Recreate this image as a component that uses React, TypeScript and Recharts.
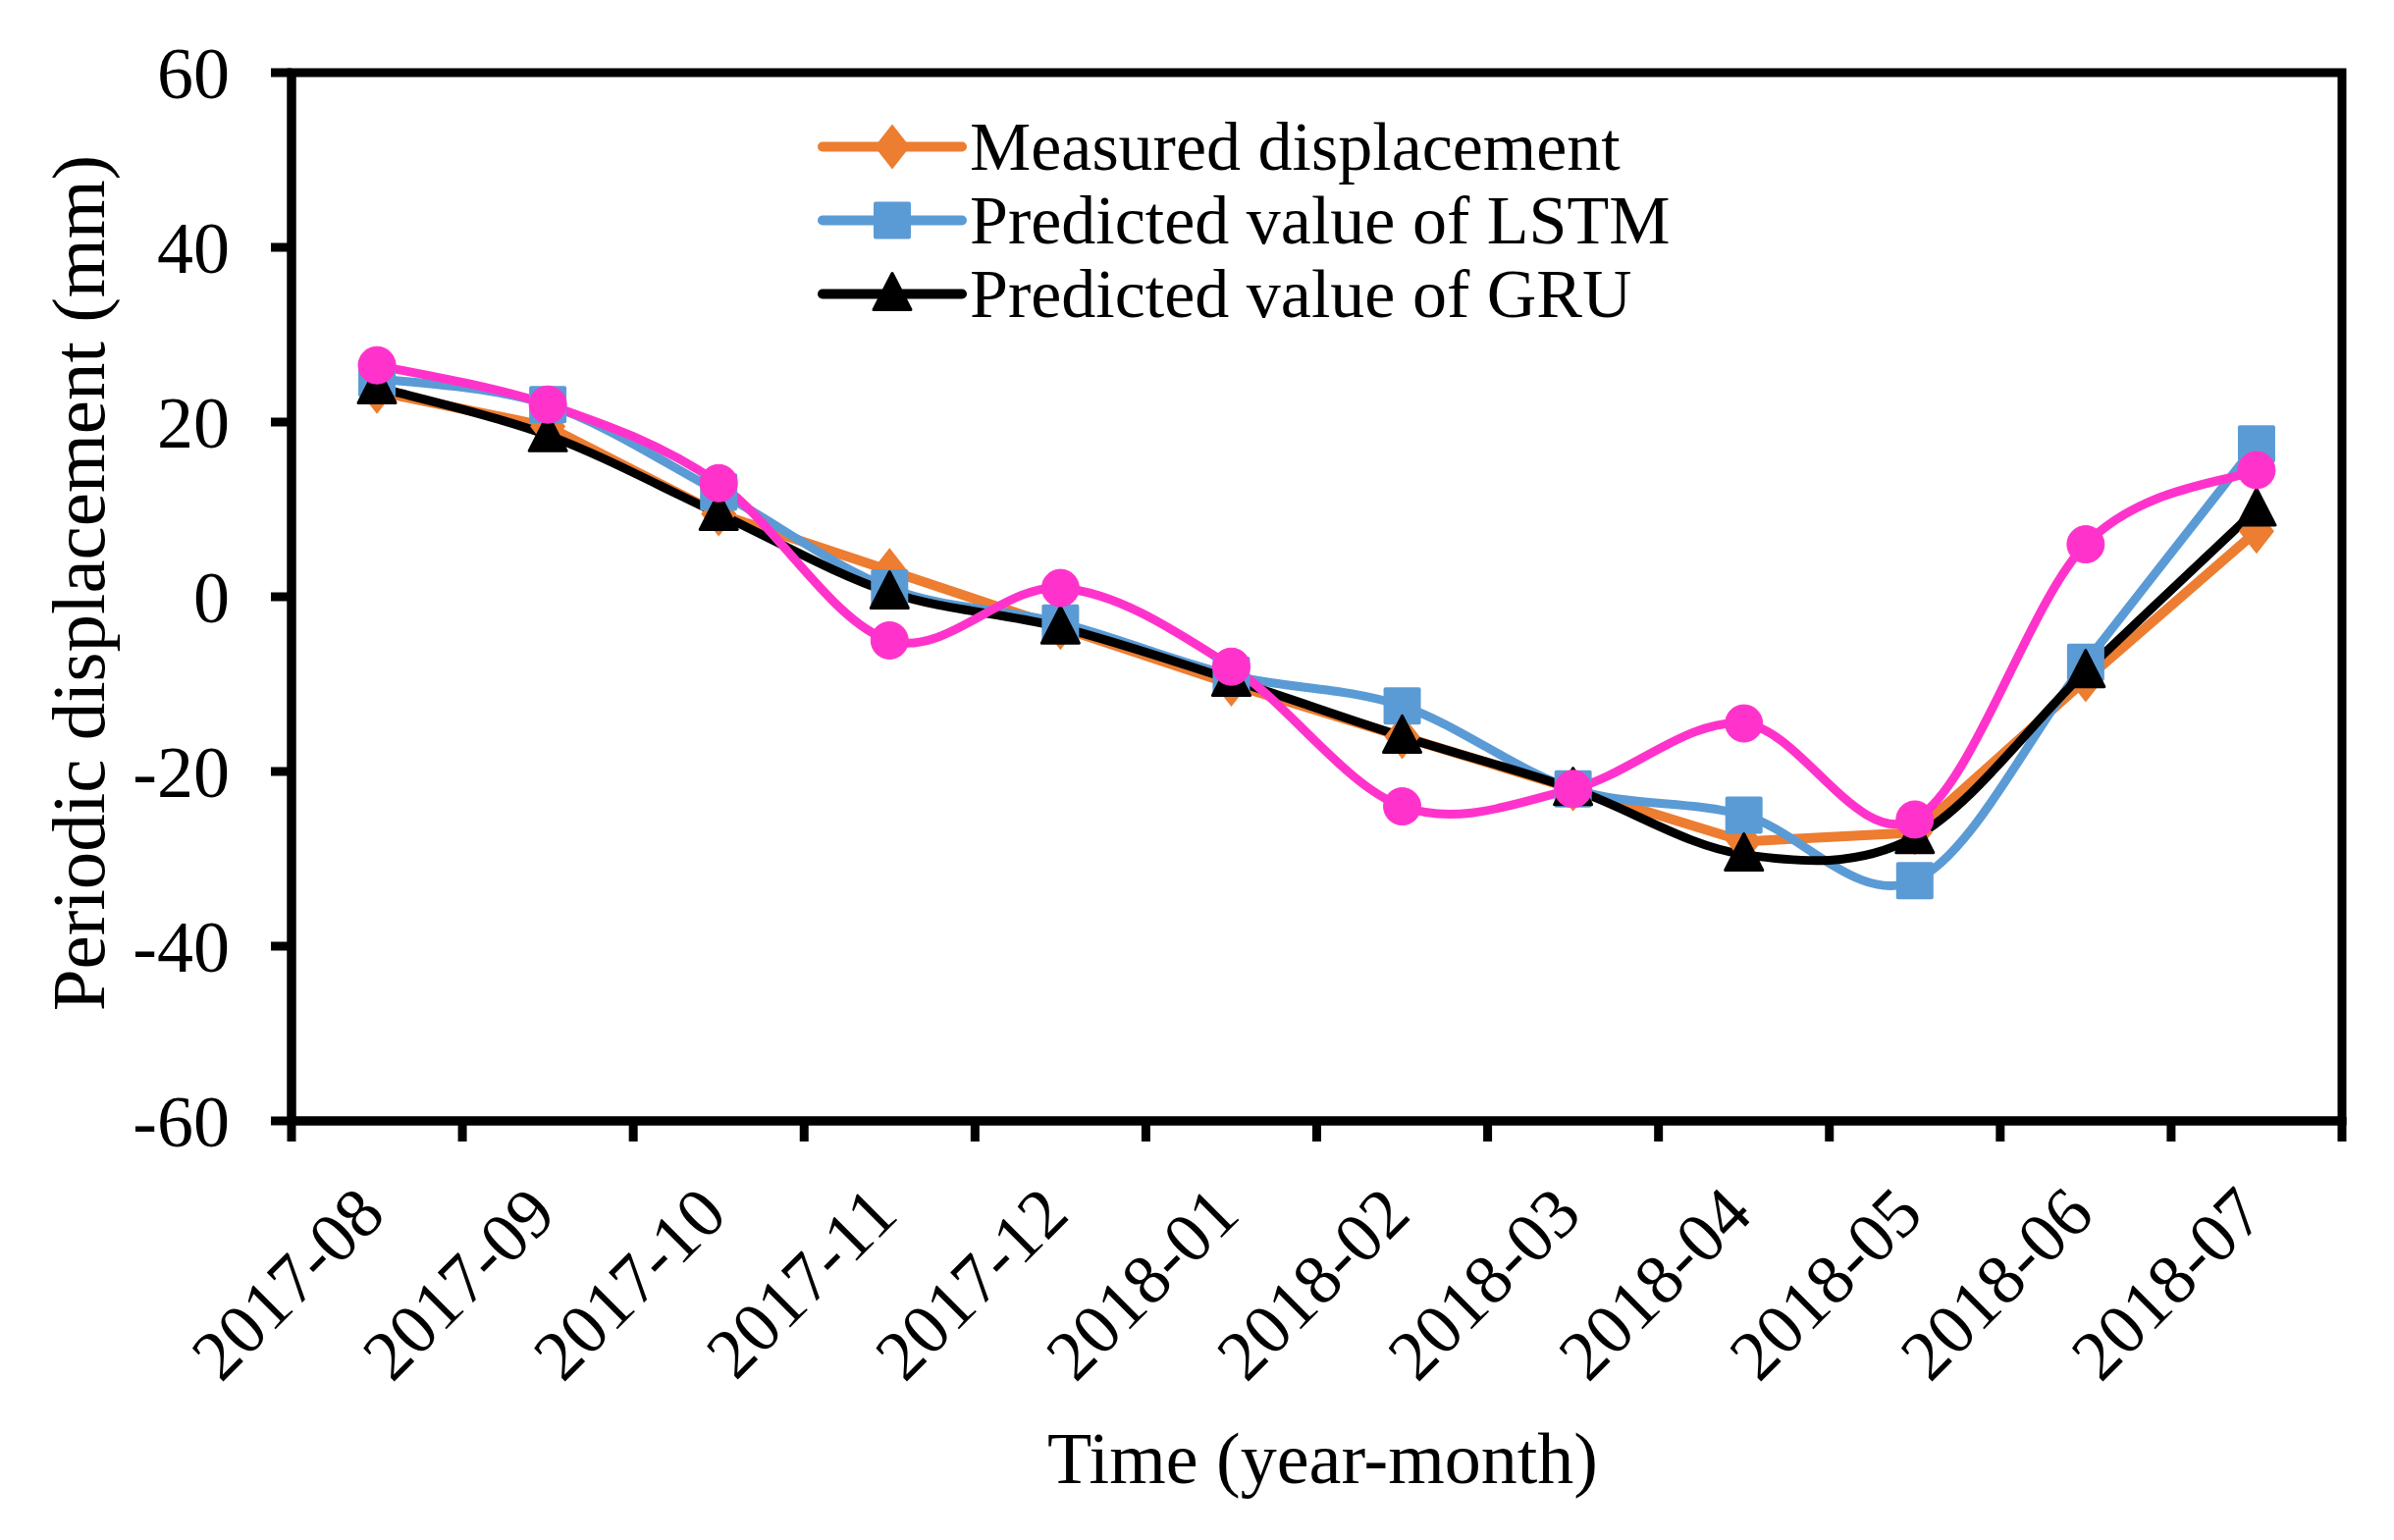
import React from "react";
import { LineChart, Line, XAxis, YAxis, Legend, ReferenceArea } from "recharts";

const months = [
  "2017-08", "2017-09", "2017-10", "2017-11", "2017-12", "2018-01",
  "2018-02", "2018-03", "2018-04", "2018-05", "2018-06", "2018-07",
];
const measured = [23.5, 19.5, 9.5, 3, -3.5, -10, -16, -22, -28, -27, -9.5, 7.5];
const lstm = [25, 22, 12, 1, -3, -9, -12.5, -22, -25, -32.5, -7.5, 17.5];
const gru = [24, 18.5, 9.5, 0.5, -3.5, -9.5, -16, -22, -29.5, -27.5, -8.5, 10];
const other = [26.5, 22, 13, -5, 1, -8, -24, -22, -14.5, -25.5, 6, 14.5];
const yTicks = [-60, -40, -20, 0, 20, 40, 60];
const legendOrder = ["Measured displacement", "Predicted value of LSTM", "Predicted value of GRU"];

const FONT = "'Liberation Serif', 'Times New Roman', serif";
const ORANGE = "#ED7D31";
const BLUE = "#5B9BD5";
const BLACK = "#000000";
const PINK = "#FF33CC";

const data = months.map((m, i) => ({
  idx: i,
  month: m,
  measured: measured[i],
  lstm: lstm[i],
  gru: gru[i],
  other: other[i],
}));

// category boundaries (tick marks) + category centres (labels)
const xTicks = months.flatMap((_, i) => [i - 0.5, i]).concat(months.length - 0.5);

// Excel-like smoothed line (Catmull-Rom through the points)
const excelSmooth = (context: any) => {
  let pts: number[][] = [];
  return {
    areaStart() {},
    areaEnd() {},
    lineStart() {
      pts = [];
    },
    point(x: number, y: number) {
      pts.push([+x, +y]);
    },
    lineEnd() {
      const n = pts.length;
      if (!n) return;
      context.moveTo(pts[0][0], pts[0][1]);
      for (let i = 0; i < n - 1; i++) {
        const p0 = pts[Math.max(i - 1, 0)];
        const p1 = pts[i];
        const p2 = pts[i + 1];
        const p3 = pts[Math.min(i + 2, n - 1)];
        context.bezierCurveTo(
          p1[0] + (p2[0] - p0[0]) / 6,
          p1[1] + (p2[1] - p0[1]) / 6,
          p2[0] - (p3[0] - p1[0]) / 6,
          p2[1] - (p3[1] - p1[1]) / 6,
          p2[0],
          p2[1]
        );
      }
    },
  };
};

const Diamond = ({ cx, cy, fill }: any) => (
  <polygon
    points={`${cx},${cy - 23} ${cx + 18},${cy} ${cx},${cy + 23} ${cx - 18},${cy}`}
    fill={fill}
  />
);
const Square = ({ cx, cy, fill }: any) => (
  <rect x={cx - 19} y={cy - 19} width={38} height={38} rx={2} fill={fill} />
);
const Triangle = ({ cx, cy, fill }: any) => (
  <polygon
    points={`${cx},${cy - 21} ${cx + 19},${cy + 16} ${cx - 19},${cy + 16}`}
    fill={fill}
    stroke={fill}
    strokeWidth={3}
    strokeLinejoin="round"
  />
);

const markers: Record<string, any> = {
  "Measured displacement": Diamond,
  "Predicted value of LSTM": Square,
  "Predicted value of GRU": Triangle,
};

function XTick({ x, y, payload }: any) {
  const v = payload.value;
  if (!Number.isInteger(v)) {
    return <line x1={x} x2={x} y1={y - 4} y2={y + 21} stroke="#000" strokeWidth={9} />;
  }
  const ax = x + 11;
  const ay = y + 98;
  return (
    <text
      x={ax}
      y={ay}
      textAnchor="end"
      transform={`rotate(-45, ${ax}, ${ay})`}
      fontFamily={FONT}
      fontSize={72}
      fill="#000"
    >
      {months[v]}
    </text>
  );
}

function LegendBox({ payload }: any) {
  const items = (payload || [])
    .filter((e: any) => legendOrder.includes(e.value))
    .sort((a: any, b: any) => legendOrder.indexOf(a.value) - legendOrder.indexOf(b.value));
  return (
    <div style={{ fontFamily: FONT, fontSize: 70, color: "#000" }}>
      {items.map((entry: any) => {
        const M = markers[entry.value];
        return (
          <div
            key={entry.value}
            style={{ display: "flex", alignItems: "center", height: 75, whiteSpace: "nowrap" }}
          >
            <svg width={152} height={75} style={{ display: "block" }}>
              <line
                x1={5}
                x2={147}
                y1={37.5}
                y2={37.5}
                stroke={entry.color}
                strokeWidth={10}
                strokeLinecap="round"
              />
              {M ? <M cx={76} cy={37.5} fill={entry.color} /> : null}
            </svg>
            <span style={{ marginLeft: 3, lineHeight: "75px" }}>{entry.value}</span>
          </div>
        );
      })}
    </div>
  );
}

export default function App() {
  return (
    <div
      style={{
        position: "absolute",
        left: 0,
        top: 0,
        width: 2439,
        height: 1569,
        background: "#fff",
      }}
    >
      <LineChart
        width={2439}
        height={1569}
        data={data}
        margin={{ top: 74, right: 53, left: 0, bottom: 0 }}
      >
        <ReferenceArea
          y1={-60}
          y2={60}
          fill="none"
          stroke="#000"
          strokeWidth={9}
          ifOverflow="visible"
        />
        <XAxis
          dataKey="idx"
          type="number"
          domain={[-0.5, 11.5]}
          ticks={xTicks}
          interval={0}
          tickLine={false}
          tickSize={0}
          tickMargin={0}
          height={427}
          axisLine={{ stroke: "#000", strokeWidth: 9 }}
          tick={<XTick />}
          label={({ viewBox }: any) => (
            <text
              x={viewBox.x + viewBox.width / 2 + 6}
              y={viewBox.y + 344}
              textAnchor="middle"
              dominantBaseline="central"
              fontFamily={FONT}
              fontSize={74}
              fill="#000"
            >
              Time (year-month)
            </text>
          )}
        />
        <YAxis
          type="number"
          domain={[-60, 60]}
          ticks={yTicks}
          interval={0}
          width={297}
          tickSize={21}
          tickMargin={42}
          axisLine={{ stroke: "#000", strokeWidth: 9 }}
          tickLine={{ stroke: "#000", strokeWidth: 9 }}
          tick={{ fill: "#000", fontSize: 74, fontFamily: FONT }}
          label={({ viewBox }: any) => {
            const cx = 80;
            const cy = viewBox.y + viewBox.height / 2 - 14;
            return (
              <text
                x={cx}
                y={cy}
                textAnchor="middle"
                dominantBaseline="central"
                transform={`rotate(-90, ${cx}, ${cy})`}
                fontFamily={FONT}
                fontSize={77}
                fill="#000"
              >
                Periodic displacement (mm)
              </text>
            );
          }}
        />
        <Legend
          layout="vertical"
          align="center"
          verticalAlign="middle"
          content={<LegendBox />}
          wrapperStyle={{ left: 833, top: 112, width: 1000 }}
        />
        <Line
          name="Measured displacement"
          dataKey="measured"
          type="linear"
          stroke={ORANGE}
          strokeWidth={10}
          dot={(p: any) => <Diamond key={`d${p.index}`} cx={p.cx} cy={p.cy} fill={ORANGE} />}
          activeDot={false}
          isAnimationActive={false}
        />
        <Line
          name="Predicted value of LSTM"
          dataKey="lstm"
          type={excelSmooth as any}
          stroke={BLUE}
          strokeWidth={9}
          dot={(p: any) => <Square key={`s${p.index}`} cx={p.cx} cy={p.cy} fill={BLUE} />}
          activeDot={false}
          isAnimationActive={false}
        />
        <Line
          name="Predicted value of GRU"
          dataKey="gru"
          type={excelSmooth as any}
          stroke={BLACK}
          strokeWidth={9}
          dot={(p: any) => <Triangle key={`t${p.index}`} cx={p.cx} cy={p.cy} fill={BLACK} />}
          activeDot={false}
          isAnimationActive={false}
        />
        <Line
          name="Other model"
          dataKey="other"
          type={excelSmooth as any}
          stroke={PINK}
          strokeWidth={9}
          dot={{ r: 19, fill: PINK, stroke: PINK, strokeWidth: 1 }}
          activeDot={false}
          legendType="none"
          isAnimationActive={false}
        />
      </LineChart>
    </div>
  );
}
